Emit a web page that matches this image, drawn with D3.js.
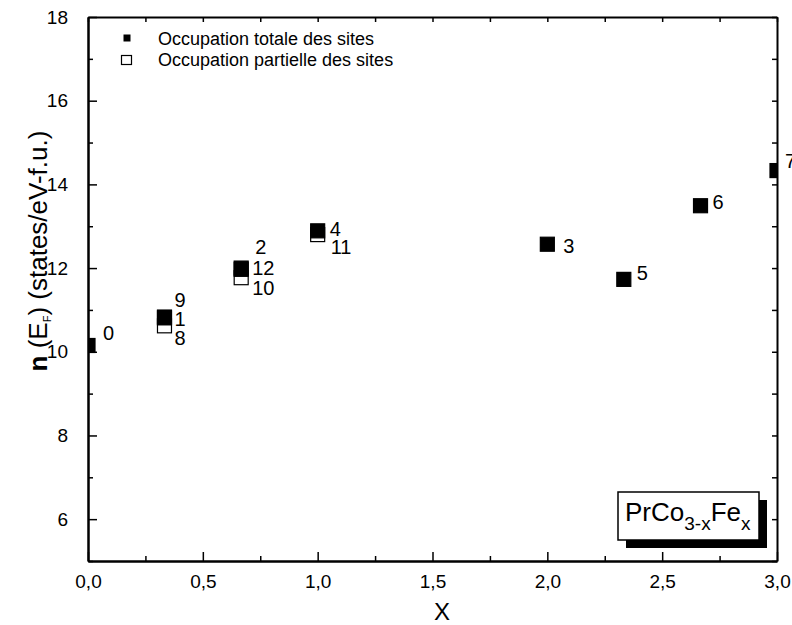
<!DOCTYPE html>
<html>
<head>
<meta charset="utf-8">
<script src="https://cdn.jsdelivr.net/npm/d3@7"></script>
<style>
  body { margin: 0; background: #fff; }
  text { font-family: "Liberation Sans", Arial, sans-serif; fill: #000; }
</style>
</head>
<body>
<div class="container"></div>
<script>
const wd = 792
const ht = 625

// data
const sampleIds = ["0","1","2","3","4","5","6","7","8","9","10","11","12"]
const xValues = [0, 0.333, 0.667, 2.0, 1.0, 2.333, 2.667, 3.0, 0.333, 0.333, 0.667, 1.0, 0.667]
const nEF = [10.15, 10.81, 12.0, 12.57, 12.89, 11.73, 13.49, 14.33, 10.62, 10.83, 11.77, 12.8, 11.97]
const occupation = ["totale","totale","totale","totale","totale","totale","totale","totale","partielle","totale","partielle","partielle","totale"]
const legendLabels = ["Occupation totale des sites", "Occupation partielle des sites"]
const xMajor = [0, 0.5, 1, 1.5, 2, 2.5, 3]
const xTickLabels = ["0,0","0,5","1,0","1,5","2,0","2,5","3,0"]
const xMinor = [0.25, 0.75, 1.25, 1.75, 2.25, 2.75]
const yMajor = [6, 8, 10, 12, 14, 16, 18]
const yTickLabels = ["6","8","10","12","14","16","18"]
const yMinor = [5, 7, 9, 11, 13, 15, 17]

// label placement next to each marker (px)
const labelDx = [15, 10, 14, 16, 12, 13, 12, 8, 10, 10, 11, 13, 11]
const labelDy = [-13, 1, -21, 2, -2, -7, -4, -10, 12, -17, 10, 12, -2]

const m = {left: 88, right: 15, top: 17, bottom: 64}
const w = wd - m.left - m.right
const h = ht - m.top - m.bottom

const svg = d3.select(".container").append("svg")
  .attr("width", wd).attr("height", ht)

const x = d3.scaleLinear().domain([0, 3]).range([0, w])
const y = d3.scaleLinear().domain([5, 18]).range([h, 0])

const g = svg.append("g").attr("transform", `translate(${m.left},${m.top})`)

g.append("clipPath").attr("id", "clip")
  .append("rect").attr("width", w).attr("height", h)

// axes
const styleAxis = (sel) => {
  sel.selectAll("path").attr("stroke", "#000").attr("stroke-width", 2)
  sel.selectAll("line").attr("stroke", "#000").attr("stroke-width", 1.5)
  sel.selectAll("text").attr("font-family", null).attr("font-size", 19)
}

g.append("g").attr("transform", `translate(0,${h})`)
  .call(d3.axisBottom(x).tickValues(xMajor).tickFormat((d,i)=>xTickLabels[i]).tickSizeInner(-9).tickSizeOuter(0).tickPadding(14))
  .call(styleAxis)
g.append("g").attr("transform", `translate(0,${h})`)
  .call(d3.axisBottom(x).tickValues(xMinor).tickFormat("").tickSizeInner(-5).tickSizeOuter(0))
  .call(styleAxis)
g.append("g")
  .call(d3.axisTop(x).tickValues(xMajor.concat(xMinor)).tickFormat("").tickSizeInner(-5).tickSizeOuter(0))
  .call(styleAxis)

g.append("g")
  .call(d3.axisLeft(y).tickValues(yMajor).tickFormat((d,i)=>yTickLabels[i]).tickSizeInner(-9).tickSizeOuter(0).tickPadding(20))
  .call(styleAxis)
g.append("g")
  .call(d3.axisLeft(y).tickValues(yMinor).tickFormat("").tickSizeInner(-5).tickSizeOuter(0))
  .call(styleAxis)
g.append("g").attr("transform", `translate(${w},0)`)
  .call(d3.axisRight(y).tickValues(yMajor.concat(yMinor)).tickFormat("").tickSizeInner(-5).tickSizeOuter(0))
  .call(styleAxis)

// markers
const sq = 14
const order = d3.range(sampleIds.length).sort((a, b) => (occupation[a] === "totale") - (occupation[b] === "totale"))
g.append("g").attr("clip-path", "url(#clip)")
  .selectAll("rect").data(order).join("rect")
  .attr("x", i => x(xValues[i]) - sq/2)
  .attr("y", i => y(nEF[i]) - sq/2)
  .attr("width", sq).attr("height", sq)
  .attr("fill", i => occupation[i] === "totale" ? "#000" : "#fff")
  .attr("stroke", "#000").attr("stroke-width", 1.2)

g.append("g").selectAll("text").data(d3.range(sampleIds.length)).join("text")
  .attr("x", i => x(xValues[i]) + labelDx[i])
  .attr("y", i => y(nEF[i]) + labelDy[i])
  .attr("dy", "0.36em")
  .attr("font-size", 20)
  .text(i => sampleIds[i])

// legend
const leg = svg.append("g")
leg.append("rect").attr("x", 123.5).attr("y", 34.5).attr("width", 7).attr("height", 7).attr("fill", "#000")
leg.append("rect").attr("x", 121.5).attr("y", 55.5).attr("width", 10).attr("height", 9)
  .attr("fill", "#fff").attr("stroke", "#000").attr("stroke-width", 1.2)
leg.selectAll("text").data(legendLabels).join("text")
  .attr("x", 158).attr("y", (d, i) => 45 + i * 21)
  .attr("font-size", 18)
  .text(d => d)

// axis titles
svg.append("text").attr("x", 442).attr("y", 620)
  .attr("text-anchor", "middle").attr("font-size", 24).text("X")

const yl = svg.append("text")
  .attr("transform", "translate(47,251) rotate(-90)")
  .attr("text-anchor", "middle").attr("font-size", 26)
yl.append("tspan").attr("font-weight", "bold").text("n")
yl.append("tspan").text("\u00a0(E")
yl.append("tspan").attr("font-size", 11).attr("dy", 4).text("F")
yl.append("tspan").attr("dy", -4).text(")\u00a0(states/eV-f.u.)")

// formula box
const bx = 618, by = 492, bw = 141, bh = 48
svg.append("rect").attr("x", bx + 8).attr("y", by + 8).attr("width", bw).attr("height", bh).attr("fill", "#000")
svg.append("rect").attr("x", bx).attr("y", by).attr("width", bw).attr("height", bh)
  .attr("fill", "#fff").attr("stroke", "#000").attr("stroke-width", 1.5)
const ft = svg.append("text").attr("x", bx + 7).attr("y", 521).attr("font-size", 26)
ft.append("tspan").text("PrCo")
ft.append("tspan").attr("font-size", 19).attr("dy", 9).text("3-x")
ft.append("tspan").attr("dy", -9).text("Fe")
ft.append("tspan").attr("font-size", 19).attr("dy", 9).text("x")
</script>
</body>
</html>
